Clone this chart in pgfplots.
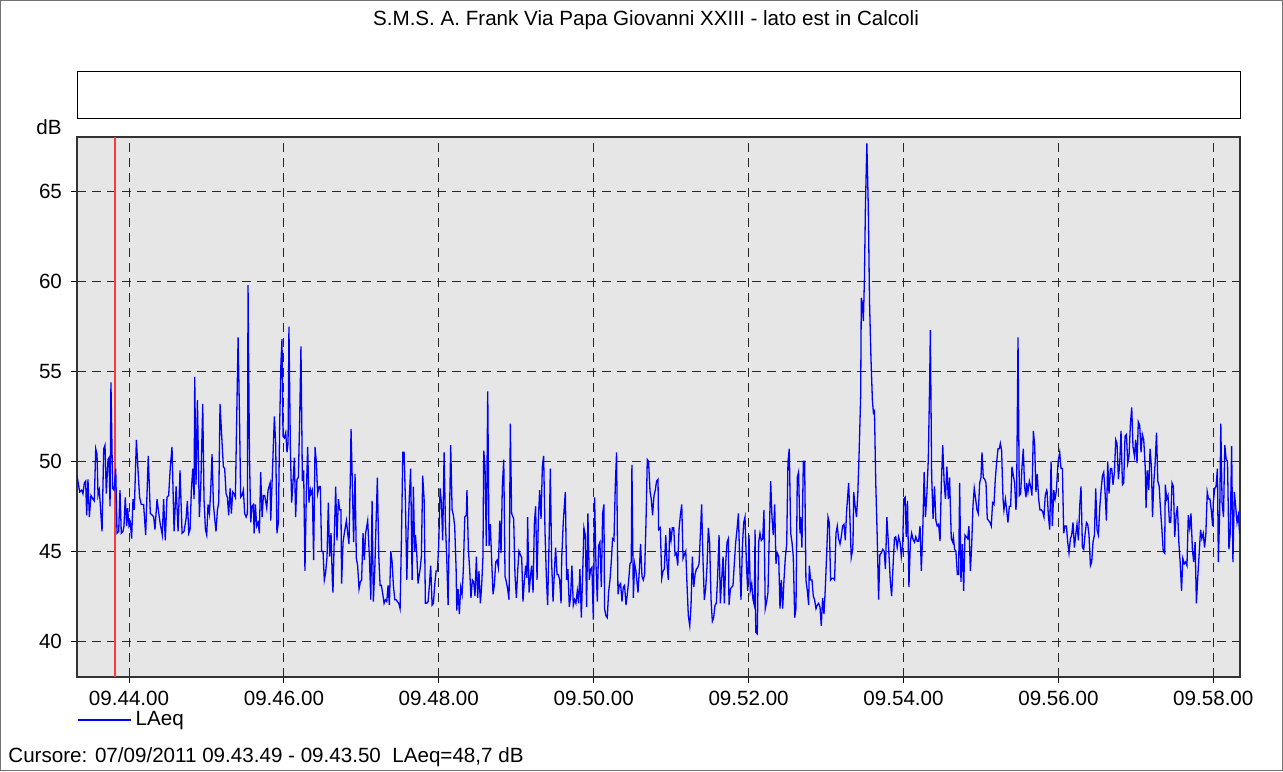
\documentclass[border=0pt]{standalone}
\usepackage{fontspec}
\setmainfont{Liberation Sans}
\usepackage{pgfplots}
\pgfplotsset{compat=1.18}
\definecolor{plotbg}{RGB}{230,230,230}
\definecolor{lineblue}{RGB}{0,0,255}
\definecolor{cursorred}{RGB}{250,60,60}
\newcommand{\chartfont}{\fontsize{10.3}{12.4}\selectfont}

\begin{document}
\begin{tikzpicture}[font=\chartfont]
\useasboundingbox (0,0) rectangle (641.5pt,385.5pt);
\draw[black!55, line width=0.5pt] (0.25pt,0.25pt) rectangle (641.25pt,385.25pt);
\node at (323pt,375.5pt) {S.M.S. A. Frank Via Papa Giovanni XXIII - lato est in Calcoli};
\draw[black, line width=0.5pt] (38.5pt,326pt) rectangle (620pt,349.5pt);
\node[anchor=east, inner sep=0pt] at (31pt,322pt) {dB};
\node[anchor=west, inner sep=0pt] at (4pt,7pt) {Cursore: 07/09/2011 09.43.49 - 09.43.50\ \ LAeq=48,7 dB};
\begin{axis}[
  at={(38.5pt,47pt)}, anchor=south west,
  scale only axis, width=581.5pt, height=270pt,
  xmin=19.7, xmax=920.7, ymin=38, ymax=68.05,
  axis background/.style={fill=plotbg},
  axis line style={black!80, line width=0.7pt},
  xtick={60,180,300,420,540,660,780,900},
  xticklabels={09.44.00,09.46.00,09.48.00,09.50.00,09.52.00,09.54.00,09.56.00,09.58.00},
  ytick={40,45,50,55,60,65},
  tick align=outside, major tick length=3pt,
  tick style={black, line width=0.5pt},
  xtick pos=bottom, ytick pos=left,
  grid=major,
  grid style={black!85, dash pattern=on 4.5pt off 3pt, line width=0.5pt},
  /pgf/number format/assume math mode=true,
  ticklabel style={font=\chartfont},
  xticklabel style={yshift=-0.5pt},
  yticklabel style={xshift=-1pt},
  legend style={draw=none, fill=none, at={(axis description cs:0,-0.0796)}, anchor=west,
    inner xsep=0pt, inner ysep=0pt, font=\chartfont},
  legend image code/.code={\draw[#1] (0pt,0pt) -- (26.5pt,0pt);},
  clip=true,
]
\addplot[cursorred, line width=1.0pt, forget plot] coordinates {(49.5,38) (49.5,68.05)};
\addplot[lineblue, line width=0.65pt] coordinates {
(19.7,49.2)(21.8,48.3)(23.3,48.4)(24.3,48.2)(25.4,48.8)(26.4,48.9)(27.2,47.0)(28.2,49.0)(29.3,46.9)(30.5,48.1)
(32.1,47.9)(33.1,47.8)(34.2,50.7)(35.2,50.4)(36.0,48.1)(37.0,48.4)(39.1,46.1)(40.4,50.7)(41.4,50.9)(42.4,48.2)
(43.7,50.1)(44.5,50.2)(45.3,47.5)(46.0,54.4)(47.3,48.5)(48.4,48.4)(49.7,49.6)(50.7,46.0)(52.0,46.1)(53.0,48.4)
(54.0,46.0)(55.3,46.1)(56.1,46.4)(57.1,48.0)(58.2,46.4)(58.9,47.4)(60.0,46.4)(61.0,46.6)(62.0,45.7)(63.1,47.9)
(64.1,47.3)(65.7,51.2)(66.9,49.6)(68.2,48.0)(69.5,47.6)(71.3,47.6)(72.9,45.9)(74.9,50.3)(76.5,47.1)(78.1,47.0)
(79.1,46.9)(80.1,46.2)(81.7,47.9)(82.7,47.3)(84.2,46.5)(85.8,45.9)(86.8,47.9)(88.1,45.6)(89.4,48.0)(90.7,48.1)
(92.0,49.7)(93.3,50.8)
(94.9,46.1)(96.5,48.6)(98.0,46.1)(99.5,49.5)(101.1,46.0)(102.6,46.1)(104.2,46.8)(105.2,47.8)(106.3,46.0)(107.3,46.2)
(108.3,48.4)(109.4,49.6)(110.4,47.9)(110.9,54.7)(111.9,48.7)(113.0,53.4)(114.5,46.9)(115.6,48.6)(117.1,53.2)(118.1,47.9)
(119.2,46.2)(120.2,45.9)(121.2,47.6)(122.3,47.1)(123.3,48.4)(124.3,50.4)(125.4,47.6)(126.4,46.8)(127.4,46.1)(128.5,47.3)
(129.5,47.7)(130.5,53.2)(132.1,51.0)(133.1,49.7)(134.1,49.6)(135.2,48.2)(136.2,48.0)(137.2,47.0)(138.3,48.5)(139.3,47.1)
(140.3,48.3)(141.4,48.2)(142.4,48.0)(143.4,52.3)(144.5,56.9)(145.5,52.9)(146.5,48.0)(147.6,48.1)(148.6,48.4)(149.6,47.1)
(150.7,46.9)(151.7,47.1)(152.2,59.8)(153.3,50.3)(154.3,46.6)(155.3,47.5)(156.4,47.6)(156.9,46.0)(157.9,47.6)(158.9,46.4)
(160.0,46.6)(161.0,46.0)(162.0,49.4)(163.1,46.9)(164.1,48.1)(165.1,48.1)(166.7,47.4)(167.7,48.4)(169.3,48.8)(169.8,46.7)
(171.0,49.2)(172.6,52.5)(173.6,51.0)(174.6,46.0)(175.7,46.6)(176.7,52.0)(177.7,55.5)(178.5,56.8)(179.3,51.4)(180.3,51.3)
(181.4,51.6)(182.4,50.5)(183.2,51.0)(183.9,57.5)(185.0,50.7)(186.0,47.7)(187.0,48.8)(188.1,50.2)(189.1,46.9)(190.1,49.0)
(191.2,49.1)(192.2,52.3)(193.2,56.4)(194.3,48.9)(195.3,49.5)(196.3,43.9)(197.4,48.3)(198.4,50.8)(199.4,47.7)(200.5,48.4)
(201.0,48.2)(202.0,48.4)(203.0,44.5)(204.1,50.8)(205.1,50.0)(206.1,48.2)(207.2,48.6)(208.2,48.6)(209.2,45.0)(210.3,45.0)
(211.3,43.4)(212.3,43.8)(213.4,44.7)(214.4,47.7)(215.4,44.7)(216.5,46.0)(217.5,43.4)(218.0,42.7)(219.1,46.0)(220.1,48.6)
(221.1,45.6)(222.2,47.9)(223.2,47.3)(224.2,47.3)(224.7,43.2)(225.8,45.5)(226.8,46.0)(228.4,46.7)(229.4,46.0)(230.4,45.4)
(231.5,49.3)(232.0,51.8)(233.0,48.8)(234.0,45.5)(235.1,49.3)(236.1,44.6)(237.1,44.2)(238.2,42.9)(239.2,43.3)(240.2,43.4)
(241.3,46.0)(242.3,44.5)(243.3,46.0)(244.9,46.7)
(246.2,44.7)(247.3,42.3)(248.3,47.8)(249.3,42.2)(250.4,44.0)(251.4,46.6)(252.4,49.1)(253.5,44.7)(254.5,43.1)(255.5,43.1)
(256.6,42.6)(257.6,42.1)(258.6,42.3)(259.7,42.2)(260.7,43.1)(261.7,42.0)(262.8,45.0)(263.8,44.4)(264.8,43.1)(265.9,42.3)
(266.9,42.3)(267.9,42.2)(269.0,42.1)(270.0,41.8)(271.0,45.5)(272.1,50.5)(273.1,50.5)(274.1,47.9)(275.2,43.4)(276.2,46.2)
(277.2,48.1)(278.2,49.6)(279.3,43.4)(280.3,48.6)(281.3,45.0)(281.9,45.9)(282.9,44.9)(283.9,43.2)(285.5,44.0)(286.5,44.7)
(287.5,49.2)(288.6,47.9)(289.6,42.1)(290.6,42.1)(291.7,42.2)(292.7,43.1)(293.7,44.2)(294.8,42.0)(295.8,42.1)(296.8,43.1)
(297.9,43.9)(298.9,43.9)(299.9,45.3)(301.0,48.5)(302.0,47.7)(303.0,45.6)(304.1,50.5)(305.1,46.6)(306.1,44.7)(307.2,42.0)
(308.2,46.6)(309.2,50.9)(310.3,47.3)(311.3,47.0)(312.3,46.4)(313.4,44.0)(313.9,41.7)(314.9,42.9)(315.9,41.5)(317.0,43.0)
(318.0,42.6)(319.0,44.0)(320.1,46.9)
(321.3,47.0)(321.8,48.4)(322.9,45.1)(323.9,44.0)(324.9,42.4)(326.0,43.4)(327.0,43.3)(328.0,42.5)(329.1,44.7)(330.1,42.4)
(331.1,43.9)(332.2,42.1)(333.2,43.1)(334.2,44.7)(334.8,50.6)(335.8,49.7)(336.8,45.3)(337.9,53.9)(338.9,45.3)(339.9,46.5)
(341.0,44.4)(342.0,42.6)(343.0,43.1)(344.1,44.4)(345.1,44.5)(346.1,44.1)(347.2,46.7)(348.2,44.9)(349.2,48.6)(350.3,50.1)
(351.3,43.6)(352.3,43.3)(353.3,42.9)(354.4,42.3)(355.4,52.1)(356.4,47.1)(358.0,46.8)(359.0,43.7)(360.1,42.4)(361.1,43.9)
(362.1,45.0)(363.2,44.8)(364.2,44.65)(365.2,42.2)(366.3,43.4)(367.3,44.2)(368.3,43.5)(368.8,46.9)(369.9,42.7)(370.9,43.5)
(371.9,44.2)(373.0,42.7)(374.0,46.5)(375.0,47.5)(376.1,43.4)(377.1,46.7)(378.1,48.4)(379.2,46.8)(380.2,49.7)(381.2,50.3)
(382.3,46.0)(383.3,43.6)(384.3,42.0)(385.4,45.5)(386.4,49.6)(387.4,44.4)(388.5,42.2)(389.5,43.8)(390.5,45.2)(391.6,43.7)
(392.6,43.7)(393.6,43.4)(394.7,42.1)(395.2,44.6)
(396.4,46.6)(398.0,48.3)(399.0,43.4)(400.0,44.0)(401.1,41.9)(402.1,42.5)(403.1,44.2)(404.2,42.0)(405.2,42.3)(406.2,42.1)
(407.3,42.8)(408.3,42.1)(409.3,44.0)(410.4,41.3)(411.4,43.6)(412.4,46.3)(413.5,45.9)(414.5,41.9)(415.5,47.1)(416.6,43.4)
(417.6,44.0)(418.6,44.1)(419.7,41.2)(420.7,48.0)(421.7,44.4)(422.8,42.2)(423.8,45.3)(424.8,45.5)(425.9,43.0)(426.9,47.1)
(427.9,47.6)(428.4,41.8)(429.5,41.4)(430.5,41.3)(431.5,42.7)(432.6,43.4)(433.6,44.4)(434.6,45.7)(435.7,45.6)(436.7,48.6)
(437.7,50.5)(438.8,42.6)(439.8,43.1)(440.8,43.2)(441.9,42.2)(442.9,43.0)(443.9,43.1)(445.0,42.0)(446.0,42.6)(447.0,43.3)
(448.1,44.3)(449.1,44.4)(449.6,49.8)(450.7,42.4)(451.7,44.3)(452.7,43.9)(454.3,42.7)(455.3,43.9)(456.3,45.4)(457.4,43.6)
(458.4,43.4)(459.4,43.7)(460.5,46.6)(461.5,50.1)(462.5,50.0)(463.6,48.35)(464.6,47.9)(465.6,47.0)(466.7,48.1)(467.7,48.4)
(468.7,48.9)(469.8,49.0)(470.3,46.2)
(471.6,46.3)(472.7,43.5)(473.7,43.9)(474.7,44.0)(475.8,45.9)(476.8,44.3)(477.8,43.4)(478.9,46.3)(479.9,45.6)(480.9,46.3)
(482.0,46.3)(483.0,44.8)(484.0,44.9)(485.1,44.2)(486.1,46.2)(487.1,47.0)(488.2,47.6)(489.2,44.6)(490.2,44.8)(491.3,45.0)
(492.3,43.1)(493.3,41.4)(494.4,40.85)(495.4,42.0)(496.4,44.7)(497.5,43.0)(498.5,43.7)(499.5,44.0)(500.6,44.1)(501.6,44.3)
(502.6,45.9)(503.6,47.6)(504.7,44.4)(505.7,42.3)(506.7,42.9)(507.8,44.2)(508.8,46.3)(509.8,45.5)(510.9,42.3)(511.9,41.1)
(512.9,41.3)(514.0,42.0)(515.0,42.1)(516.0,43.6)(517.1,45.9)(518.1,42.1)(519.1,43.4)(520.2,44.7)(521.2,42.1)(522.2,44.3)
(523.3,45.5)(524.3,45.7)(524.8,42.0)(525.9,42.9)(526.9,43.0)(527.9,43.1)(529.0,44.4)(530.0,45.5)(531.0,46.2)(532.1,47.1)
(533.1,44.4)(534.1,42.3)(535.2,45.3)(536.2,46.6)(537.2,46.9)(538.3,44.3)(539.3,42.8)(540.3,45.9)(541.3,42.8)(542.4,43.2)
(543.4,42.3)(544.4,42.0)(545.0,46.2)(545.5,40.5)
(546.7,40.4)(547.8,45.5)(548.8,46.0)(549.8,45.6)(550.9,45.7)(551.9,47.3)(552.9,41.8)(554.0,42.2)(555.0,42.7)(556.0,45.9)
(557.1,48.9)(558.1,46.9)(559.1,45.9)(560.2,47.6)(561.2,44.3)(562.2,44.9)(563.3,44.7)(564.3,41.8)(565.3,43.4)(566.4,41.8)
(567.4,43.4)(568.4,44.6)(569.5,45.4)(570.5,50.0)(571.5,50.7)(572.6,46.0)(573.6,45.5)(574.6,44.7)(575.7,41.3)(576.7,41.8)
(577.7,49.1)(578.7,49.4)(579.8,46.0)(580.3,46.9)(581.3,45.2)(582.4,50.0)(583.4,50.0)(584.4,43.4)(585.5,42.8)(586.5,42.0)
(587.0,44.2)(588.0,43.4)(589.1,43.4)(590.1,42.5)(591.1,42.3)(592.2,41.8)(593.2,42.0)(594.2,42.1)(595.3,41.9)(596.3,40.85)
(597.3,42.4)(598.4,41.5)(599.4,42.9)(600.4,44.7)(601.5,46.9)(602.5,46.6)(603.5,43.4)(604.6,43.5)(605.6,43.5)(606.6,43.4)
(607.7,46.0)(608.7,46.4)(609.7,45.7)(610.8,45.4)(611.8,45.8)(612.8,46.4)(613.9,46.5)(614.9,45.6)(615.9,47.2)(617.5,48.8)
(618.5,46.8)(619.5,44.65)(620.6,45.1)
(620.9,45.6)(621.4,48.3)(622.5,47.5)(623.6,46.9)(624.6,48.2)(625.7,50.7)(626.8,53.6)(627.3,59.1)(628.1,58.8)(628.9,57.8)
(629.7,60.1)(630.5,64.2)(631.6,67.7)(632.7,64.2)(633.7,58.8)(634.8,55.7)(635.9,53.4)(636.7,52.7)(637.5,52.8)(638.5,48.8)
(639.6,45.9)(640.7,42.3)(641.7,44.8)(642.8,44.9)(643.9,45.1)(645.0,45.0)(646.0,44.0)(647.1,46.9)(648.2,45.56)(649.8,43.3)
(650.8,42.5)(651.9,44.2)(653.0,45.75)(654.0,45.8)(655.1,45.2)(656.2,45.8)(657.3,45.5)(658.3,44.7)(659.4,45.4)(660.2,47.9)
(661.3,48.0)(662.1,45.8)(663.1,47.8)(664.2,43.0)(665.3,45.5)(666.3,46.0)(667.4,45.65)(668.5,45.5)(669.5,45.8)(670.6,45.56)
(671.7,45.56)(672.8,46.4)(673.8,43.9)(674.9,46.1)(676.0,49.4)(677.0,46.9)(678.1,48.2)(679.2,50.1)(680.2,54.2)(680.8,57.3)
(681.8,49.2)(682.9,46.8)(684.0,48.6)(685.1,46.7)(686.1,46.4)(687.2,46.5)(688.3,45.56)(689.3,48.8)(690.4,50.9)(691.5,48.8)
(692.5,47.9)(693.6,49.7)(694.7,47.9)(695.7,49.1)
(697.0,45.7)(698.1,45.5)(698.6,45.8)(699.6,45.1)(700.6,45.0)(701.7,43.7)(702.7,43.7)(703.5,48.8)(704.5,43.3)(705.6,45.4)
(706.6,42.8)(707.6,45.9)(708.7,45.8)(709.7,45.7)(710.7,46.4)(711.8,43.9)(712.8,45.3)(713.8,47.5)(714.8,48.5)(715.9,47.9)
(716.9,47.3)(717.9,47.1)(719.0,48.8)(720.0,49.1)(720.8,50.5)(721.8,49.1)(722.9,49.0)(723.9,48.8)(724.9,46.8)(726.0,46.7)
(727.0,46.6)(728.0,46.4)(729.0,47.7)(730.1,47.6)(731.1,49.0)(732.1,49.9)(733.2,50.7)(734.2,50.7)(735.0,51.0)(736.0,50.6)
(737.1,47.9)(737.8,47.3)(738.9,47.9)(739.9,47.3)(740.9,46.6)(742.0,47.5)(743.0,47.5)(744.0,49.7)(745.1,49.2)(746.1,48.8)
(747.1,47.3)(747.6,47.9)(748.7,56.9)(749.7,48.1)(750.7,48.2)(751.8,49.7)(752.8,50.7)(753.8,48.6)(754.9,48.0)(755.4,48.8)
(756.4,48.3)(757.5,48.9)(758.5,48.6)(759.5,48.1)(760.6,51.7)(761.6,50.9)(762.6,48.3)(763.6,49.3)(764.7,47.9)(765.7,47.3)
(766.7,47.3)(767.8,47.2)(768.8,46.9)(769.8,48.1)(770.9,48.4)
(771.2,48.35)(772.2,47.0)(773.3,46.2)(774.3,50.0)(775.3,46.4)(776.4,48.4)(777.4,47.9)(778.4,48.35)(779.5,49.7)(780.0,50.1)
(781.0,50.5)(782.0,49.6)(783.1,49.6)(784.1,46.0)(785.1,46.4)(786.2,46.4)(787.2,45.5)(788.2,44.9)(789.3,45.7)(790.3,45.9)
(791.3,46.6)(792.4,45.2)(793.4,45.9)(794.4,46.5)(795.5,45.6)(796.5,47.5)(797.5,48.6)(798.6,45.2)(799.6,45.1)(800.6,45.9)
(801.7,46.6)(802.7,46.5)(803.7,45.9)(804.8,44.2)(805.8,44.4)(806.8,45.5)(807.9,45.9)(808.9,48.5)(809.9,46.2)(811.0,45.9)
(812.0,47.4)(813.0,48.35)(814.1,49.2)(815.1,49.4)(816.1,48.35)(817.2,46.7)(818.2,50.0)(819.2,48.2)(820.3,49.6)(821.3,49.6)
(822.3,48.7)(823.4,49.4)(824.4,51.2)(825.4,51.0)(826.5,49.0)(827.5,49.9)(828.5,51.7)(829.6,48.7)(830.6,48.8)(831.6,51.4)
(832.7,51.5)(833.7,49.9)(834.7,50.3)(835.8,52.1)(836.8,53.0)(837.8,50.8)(838.9,50.3)(839.9,51.2)(840.9,49.9)(841.9,52.2)
(843.0,52.0)(844.0,50.5)(845.0,51.5)(846.1,51.2)
(847.3,49.6)(847.9,47.4)(848.9,49.5)(850.0,48.4)(851.0,50.7)(852.1,49.6)(852.9,46.9)(853.9,48.8)(855.0,50.0)(856.0,51.6)
(857.0,48.9)(858.1,48.6)(859.1,47.3)(860.2,46.2)(861.2,45.0)(862.3,44.9)(862.8,48.7)(863.9,47.9)(864.9,48.1)(866.0,46.6)
(867.0,46.6)(868.0,48.8)(869.1,48.6)(870.1,45.8)(871.2,47.0)(872.2,47.5)(873.3,45.5)(874.3,44.4)(875.4,42.8)(876.4,44.6)
(877.5,44.3)(878.5,44.4)(879.6,44.2)(880.6,47.0)(881.7,46.3)(882.7,47.1)(883.8,45.1)(884.8,44.4)(885.9,45.5)(886.9,42.1)
(888.0,43.6)(889.0,44.8)(890.1,46.2)(891.1,45.7)(892.2,46.0)(893.2,45.2)(894.2,45.9)(895.3,48.3)(896.3,47.9)(897.4,47.9)
(898.4,47.3)(899.5,46.4)(900.0,47.7)(901.1,48.5)(902.1,48.6)(903.2,49.6)(903.9,44.4)(905.0,47.3)(905.8,52.1)(906.8,47.7)
(907.9,46.9)(908.9,50.9)(910.0,50.1)(911.0,50.0)(912.1,45.1)(913.1,46.0)(914.2,50.85)(915.2,44.4)(916.3,48.3)(917.3,47.5)
(918.4,46.6)(919.4,47.0)(920.4,46.0)(921.5,46.0)
};
\addlegendentry{LAeq}
\end{axis}
\end{tikzpicture}
\end{document}
